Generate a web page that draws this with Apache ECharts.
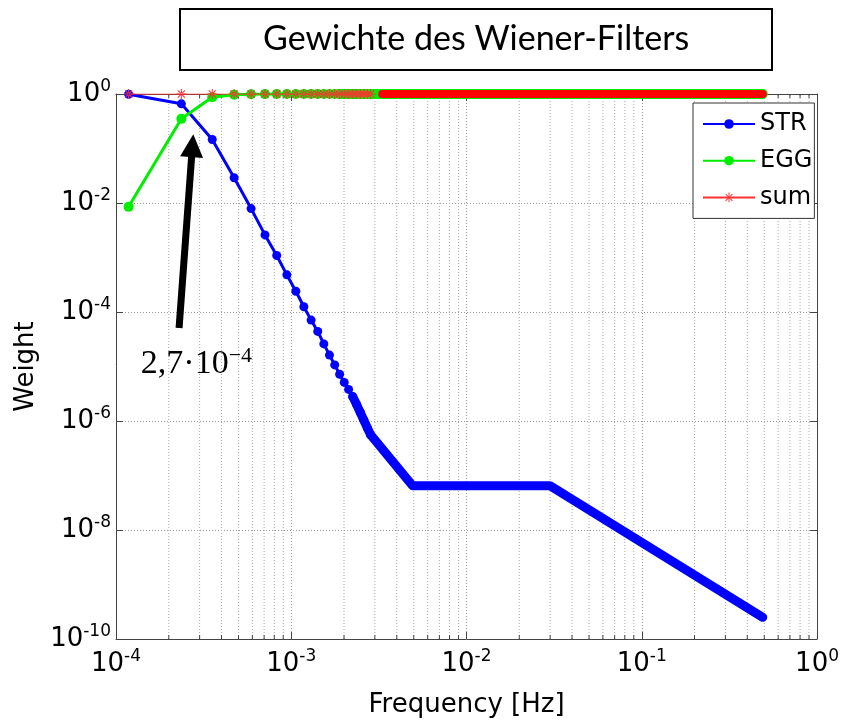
<!DOCTYPE html>
<html>
<head>
<meta charset="utf-8">
<script src="https://cdn.jsdelivr.net/npm/echarts@6/dist/echarts.min.js"></script>
<style>
  html, body { margin: 0; padding: 0; background: #fff; }
  #chart { width: 842px; height: 723px; }
</style>
</head>
<body>
<div id="chart"></div>
<script>
// frequency bins that are still resolved as single markers (Hz)
var freqSparse = [1.18e-4, 2.36e-4, 3.54e-4, 4.72e-4, 5.90e-4, 7.08e-4, 8.26e-4, 9.44e-4,
  1.062e-3, 1.18e-3, 1.298e-3, 1.416e-3, 1.534e-3, 1.652e-3, 1.77e-3, 1.888e-3,
  2.006e-3, 2.124e-3, 2.242e-3, 2.36e-3, 2.478e-3, 2.596e-3, 2.714e-3, 2.832e-3];
var strSparse = [0.99, 0.66, 0.146, 0.029, 0.0079, 0.0026, 1.09e-3, 4.8e-4,
  2.4e-4, 1.25e-4, 7.1e-5, 4.4e-5, 2.6e-5, 1.62e-5, 1.07e-5, 7.2e-6,
  5.1e-6, 3.8e-6, 2.8e-6, 2.0e-6, 1.45e-6, 1.03e-6, 7.5e-7, 5.6e-7];
var eggSparse = [8.5e-3, 0.35, 0.87, 0.97, 0.99, 0.995, 1, 1,
  1, 1, 1, 1, 1, 1, 1, 1,
  1, 1, 1, 1, 1, 1, 1, 1];
var sumSparse = [1, 1, 1, 1, 1, 1, 1, 1,
  1, 1, 1, 1, 1, 1, 1, 1,
  1, 1, 1, 1, 1, 1, 1, 1];

// dense part (markers merge into a thick band)
var strDenseFreq = [2.242e-3, 2.36e-3, 2.832e-3, 4.92e-3, 0.0299, 0.49];
var strDense = [2.8e-6, 2.0e-6, 5.6e-7, 6.5e-8, 6.5e-8, 2.5e-10];
var eggDenseFreq = [1.888e-3, 0.49];
var eggDense = [1, 1];
var sumDenseFreq = [3.3e-3, 0.49];
var sumDense = [1, 1];

var xTicks = [1e-4, 1e-3, 1e-2, 1e-1, 1];

// annotation arrow (from, to) and its text position
var arrowFrom = [2.29e-4, 5.1e-5];
var arrowTo = [2.73e-4, 0.113];
var noteAt = [1.377e-4, 1.1e-5];

function pairs(xs, ys) {
  return xs.map(function (x, i) { return [x, ys[i]]; });
}

var minorX = [];
xTicks.slice(0, -1).forEach(function (d) {
  for (var m = 2; m <= 9; m++) minorX.push([d * m, 1]);
});

var asterisk = 'path://M-1,-10L1,-10L1,10L-1,10Z M-10,-1L10,-1L10,1L-10,1Z ' +
  'M-7.8,-6.4L6.4,7.8L7.8,6.4L-6.4,-7.8Z M-7.8,6.4L-6.4,7.8L7.8,-6.4L6.4,-7.8Z';

var font = 'DejaVu Sans';
function expLabel(v) {
  return '{b|10}{s|' + Math.round(Math.log10(v)) + '}';
}
var labelRich = {
  b: { fontFamily: font, fontSize: 26, color: '#000', lineHeight: 32 },
  s: { fontFamily: font, fontSize: 17, color: '#000', lineHeight: 17, verticalAlign: 'top' }
};
var gridDotted = { show: true, lineStyle: { color: '#999', width: 1, type: [1, 2] } };

var chart = echarts.init(document.getElementById('chart'));
chart.setOption({
  animation: false,
  backgroundColor: '#fff',
  title: {
    text: 'Gewichte des Wiener-Filters',
    left: 180, top: 9,
    padding: [12, 83, 12, 83],
    borderColor: '#000', borderWidth: 2,
    textStyle: { fontFamily: 'Lato', fontSize: 34, fontWeight: 'normal', color: '#000', lineHeight: 37 }
  },
  legend: {
    data: ['STR', 'EGG', 'sum'],
    orient: 'vertical',
    left: 693, top: 103,
    padding: [8, 2, 8, 9],
    itemWidth: 52, itemHeight: 12, itemGap: 10.7,
    borderColor: '#333', borderWidth: 1,
    backgroundColor: '#fff',
    textStyle: { fontFamily: font, fontSize: 24, color: '#000', lineHeight: 26 }
  },
  grid: { left: 116, right: 20, top: 94, bottom: 79 },
  xAxis: [{
    type: 'log', logBase: 10, min: 1e-4, max: 1, interval: 1,
    name: 'Frequency [Hz]', nameLocation: 'middle', nameGap: 53,
    nameTextStyle: { fontFamily: font, fontSize: 26, color: '#000' },
    axisLine: { lineStyle: { color: '#444', width: 1 } },
    axisTick: { inside: true, length: 7, lineStyle: { color: '#444' } },
    axisLabel: { margin: 9, formatter: expLabel, rich: labelRich },
    splitLine: gridDotted
  }, {
    type: 'log', logBase: 10, min: 1e-4, max: 1, interval: 1, position: 'top',
    axisLine: { lineStyle: { color: '#444', width: 1 } },
    axisTick: { inside: true, length: 7, lineStyle: { color: '#444' } },
    axisLabel: { show: false }, splitLine: { show: false }
  }],
  yAxis: [{
    type: 'log', logBase: 10, min: 1e-10, max: 1, interval: 2,
    name: 'Weight', nameLocation: 'middle', nameGap: 70,
    nameTextStyle: { fontFamily: font, fontSize: 26, color: '#000' },
    axisLine: { show: true, lineStyle: { color: '#444', width: 1 } },
    axisTick: { show: true, inside: true, length: 7, lineStyle: { color: '#444' } },
    axisLabel: { margin: 5, formatter: expLabel, rich: labelRich },
    splitLine: gridDotted
  }, {
    type: 'log', logBase: 10, min: 1e-10, max: 1, interval: 2, position: 'right',
    axisLine: { show: true, lineStyle: { color: '#444', width: 1 } },
    axisTick: { show: true, inside: true, length: 7, lineStyle: { color: '#444' } },
    axisLabel: { show: false }, splitLine: { show: false }
  }],
  series: [{
    name: 'minor',
    type: 'custom',
    silent: true,
    z: 1,
    data: minorX,
    renderItem: function (params, api) {
      var x = api.value(0);
      var b = api.coord([x, 1e-10]);
      var t = api.coord([x, 1]);
      return {
        type: 'group',
        children: [{
          type: 'line',
          shape: { x1: b[0], y1: b[1], x2: t[0], y2: t[1] },
          style: { stroke: '#aaa', lineWidth: 1, lineDash: [1, 2] }
        }, {
          type: 'line',
          shape: { x1: b[0], y1: b[1], x2: b[0], y2: b[1] - 4 },
          style: { stroke: '#444', lineWidth: 1 }
        }, {
          type: 'line',
          shape: { x1: t[0], y1: t[1], x2: t[0], y2: t[1] + 4 },
          style: { stroke: '#444', lineWidth: 1 }
        }]
      };
    }
  }, {
    name: 'STR dense',
    type: 'line',
    data: pairs(strDenseFreq, strDense),
    showSymbol: false, symbol: 'none',
    lineStyle: { color: '#0000ff', width: 9, cap: 'round', join: 'round' },
    z: 3,
    markLine: {
      silent: true,
      symbol: ['none', 'triangle'],
      symbolSize: 23,
      label: { show: false },
      lineStyle: { color: '#000', width: 7, type: 'solid' },
      data: [[{ coord: arrowFrom }, { coord: arrowTo }]]
    },
    markPoint: {
      silent: true,
      symbol: 'circle', symbolSize: 1,
      itemStyle: { color: 'rgba(0,0,0,0)' },
      data: [{
        coord: noteAt,
        label: {
          show: true, position: 'right', distance: 0,
          formatter: '{a|2,7·10}{e|−4}',
          rich: {
            a: { fontFamily: 'Liberation Serif', fontSize: 34, color: '#000', lineHeight: 38 },
            e: { fontFamily: 'Liberation Serif', fontSize: 22, color: '#000', lineHeight: 22, verticalAlign: 'top' }
          }
        }
      }]
    }
  }, {
    name: 'STR',
    type: 'line',
    data: pairs(freqSparse, strSparse),
    symbol: 'circle', symbolSize: 9,
    itemStyle: { color: '#0000ff' },
    lineStyle: { color: '#0000ff', width: 3 },
    z: 3
  }, {
    name: 'EGG dense',
    type: 'line',
    data: pairs(eggDenseFreq, eggDense),
    symbol: 'none',
    lineStyle: { color: '#00ee00', width: 10, cap: 'round' },
    z: 4
  }, {
    name: 'EGG',
    type: 'line',
    data: pairs(freqSparse, eggSparse),
    symbol: 'circle', symbolSize: 10,
    itemStyle: { color: '#00ee00' },
    lineStyle: { color: '#00ee00', width: 3 },
    z: 4
  }, {
    name: 'sum dense',
    type: 'line',
    data: pairs(sumDenseFreq, sumDense),
    symbol: 'none',
    lineStyle: { color: '#ff0000', width: 8, cap: 'round' },
    z: 5
  }, {
    name: 'sum',
    type: 'line',
    data: pairs(freqSparse, sumSparse),
    symbol: asterisk, symbolSize: 10,
    itemStyle: { color: '#ff3030' },
    lineStyle: { color: '#ff3030', width: 1 },
    z: 5
  }]
});
</script>
</body>
</html>
